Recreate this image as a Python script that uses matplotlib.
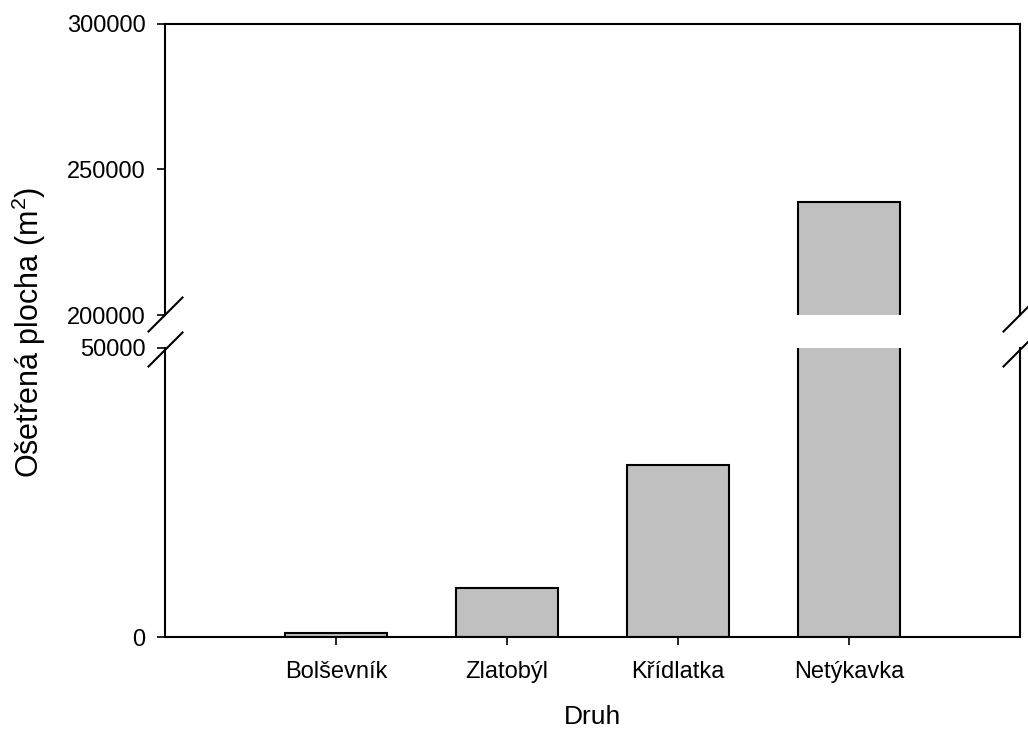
import matplotlib
matplotlib.use("Agg")
import matplotlib.pyplot as plt
from matplotlib.lines import Line2D

plt.rcParams['font.family'] = ['Liberation Sans', 'DejaVu Sans']
plt.rcParams['mathtext.fontset'] = 'custom'
plt.rcParams['mathtext.rm'] = 'Liberation Sans'

# plocha ošetřená u jednotlivých druhů (m2)
druhy = ["Bolševník", "Zlatobýl", "Křídlatka", "Netýkavka"]
plocha = [700, 8500, 29800, 238800]

horni_ticks = [200000, 250000, 300000]
dolni_ticks = [0, 50000]

W, H = 1028, 733
fig = plt.figure(figsize=(W / 100, H / 100), dpi=100)

def px_box(left, top, right, bottom):
    return [left / W, 1 - bottom / H, (right - left) / W, (bottom - top) / H]

ax_h = fig.add_axes(px_box(165, 24, 1020, 315))
ax_d = fig.add_axes(px_box(165, 348, 1020, 637))

x = range(1, len(druhy) + 1)
for ax in (ax_h, ax_d):
    ax.bar(x, plocha, width=0.6, color="#c0c0c0", edgecolor="black", linewidth=1.5)
    ax.set_xlim(0, 5)
    for s in ax.spines.values():
        s.set_linewidth(1.5)
    ax.tick_params(direction="out", length=6, width=1.2, labelsize=17, pad=8)

ax_h.set_ylim(200000, 300000)
ax_h.set_yticks(horni_ticks)
ax_h.spines["bottom"].set_visible(False)
ax_h.tick_params(axis="x", bottom=False, labelbottom=False)

ax_d.set_ylim(0, 50000)
ax_d.set_yticks(dolni_ticks)
ax_d.spines["top"].set_visible(False)
ax_d.set_xticks(list(x))
ax_d.set_xticklabels(druhy)
ax_d.tick_params(axis="x", pad=11)

# šikmé značky přerušení osy
for cx in (165.5, 1020.5):
    for cy in (314.5, 349.5):
        fig.add_artist(Line2D([(cx - 17) / W, (cx + 17) / W],
                              [1 - (cy + 17) / H, 1 - (cy - 17) / H],
                              transform=fig.transFigure, color="black",
                              linewidth=1.5, clip_on=False))

fig.text(592 / W, 1 - 717 / H, "Druh", ha="center", va="center", fontsize=19)
fig.text(29 / W, 1 - 332 / H, r"Ošetřená plocha (m$^2$)", ha="center", va="center",
         rotation=90, fontsize=22)

fig.savefig("out.png", dpi=100)
